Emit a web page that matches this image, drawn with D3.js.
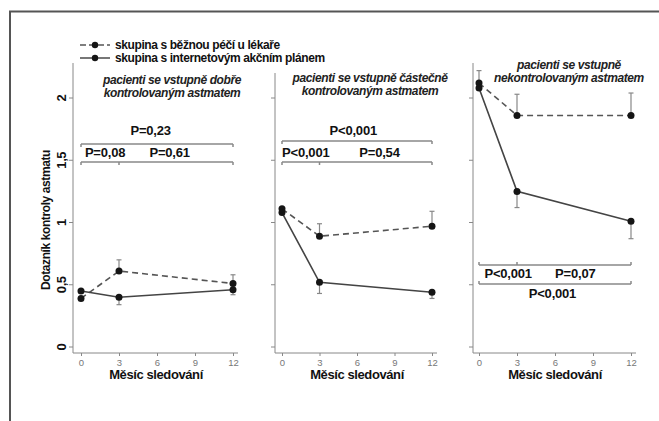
<!DOCTYPE html>
<html lang="cs">
<head>
<meta charset="utf-8">
<title>Dotazník kontroly astmatu</title>
<script src="https://cdn.jsdelivr.net/npm/d3@7"></script>
<style>
  body { margin: 0; background: #fff; }
  svg text { font-family: "Liberation Sans Narrow", "Arial Narrow", "Liberation Sans", sans-serif; font-weight: bold; letter-spacing: -0.4px; }
  .ttl { font-style: italic; font-size: 12px; fill: #222; }
  .pval { font-size: 13px; fill: #111; letter-spacing: -0.2px; }
  .axis path, .axis line { stroke: #888; fill: none; }
  .axis text { font-family: "Liberation Sans", sans-serif; font-weight: normal; font-size: 9.5px; fill: #777; letter-spacing: 0; }
</style>
</head>
<body>
<div id="chart"></div>
<script>
// data
var months = [0, 3, 12]
var panelTitles = [
  ["pacienti se vstupně dobře", "kontrolovaným astmatem"],
  ["pacienti se vstupně částečně", "kontrolovaným astmatem"],
  ["pacienti se vstupně", "nekontrolovaným astmatem"]
]
var usualCare = [[0.39, 0.61, 0.51], [1.11, 0.89, 0.97], [2.12, 1.86, 1.86]]
var usualCareUpper = [[null, 0.70, 0.58], [null, 0.99, 1.09], [2.22, 2.03, 2.04]]
var internetPlan = [[0.45, 0.40, 0.46], [1.08, 0.52, 0.44], [2.08, 1.25, 1.01]]
var internetLower = [[null, 0.34, 0.42], [null, 0.43, 0.39], [null, 1.12, 0.87]]
var pOverall = ["P=0,23", "P<0,001", "P<0,001"]
var pFirst = ["P=0,08", "P<0,001", "P<0,001"]
var pSecond = ["P=0,61", "P=0,54", "P=0,07"]
var legendLabels = ["skupina s běžnou péčí u lékaře", "skupina s internetovým akčním plánem"]
var yTicks = [0, 0.5, 1, 1.5, 2]
var xTicks = [0, 3, 6, 9, 12]

var w = 659, h = 421
var svg = d3.select("#chart").append("svg").attr("width", w).attr("height", h)

// frame
svg.append("path").attr("d", "M10,421 V11.5 H659").attr("fill", "none")
   .attr("stroke", "#555").attr("stroke-width", 2)

var yScale = d3.scaleLinear().domain([0, 2]).range([347, 98])
var panels = [
  {x0: 81, x1: 233, axX: 73, axTop: 63, axRight: 238, tx: 172, ty: 84, xlab: 156},
  {x0: 282, x1: 432, axX: 275, axTop: 73, axRight: 437, tx: 370, ty: 82, xlab: 357},
  {x0: 479, x1: 631, axX: 473, axTop: 63, axRight: 636, tx: 569, ty: 69, xlab: 555}
]
var axisY = 353

panels.forEach(function(p, i) {
  var xScale = d3.scaleLinear().domain([0, 12]).range([p.x0, p.x1])
  var g = svg.append("g")

  // y axis
  var ya = g.append("g").attr("class", "axis")
  ya.append("line").attr("x1", p.axX).attr("x2", p.axX).attr("y1", p.axTop).attr("y2", axisY)
  ya.selectAll(".yt").data(yTicks).enter().append("line")
    .attr("x1", p.axX - 4).attr("x2", p.axX)
    .attr("y1", function(d) { return yScale(d) }).attr("y2", function(d) { return yScale(d) })

  if (i == 0) {
    g.selectAll(".ylab").data(yTicks).enter().append("text")
      .attr("transform", function(d) { return "translate(66," + yScale(d) + ") rotate(-90)" })
      .attr("text-anchor", "middle").style("font-size", "13px").attr("fill", "#111")
      .text(function(d) { return String(d).replace(".", ",") })
    g.append("text").attr("transform", "translate(50,220) rotate(-90)")
      .attr("text-anchor", "middle").style("font-size", "12px").attr("fill", "#111")
      .text("Dotazník kontroly astmatu")
  }

  // x axis
  var xAxis = d3.axisBottom(xScale).tickValues(xTicks).tickSize(3).tickPadding(3)
  var xa = g.append("g").attr("class", "axis").attr("transform", "translate(0," + axisY + ")").call(xAxis)
  xa.select(".domain").attr("d", "M" + p.axX + ",0H" + p.axRight)

  g.append("text").attr("x", p.xlab).attr("y", 379).attr("text-anchor", "middle")
    .style("font-size", "13px").attr("fill", "#111").text("Měsíc sledování")

  // title
  g.selectAll(".ttl").data(panelTitles[i]).enter().append("text").attr("class", "ttl")
    .attr("x", p.tx).attr("y", function(d, k) { return p.ty + k * 13 })
    .attr("text-anchor", "middle").text(function(d) { return d })

  // p-value brackets
  var bc = "#888"
  function bracket(yy, ticks, dir) {
    g.append("line").attr("x1", xScale(0)).attr("x2", xScale(12)).attr("y1", yy).attr("y2", yy)
      .attr("stroke", bc).attr("stroke-width", 1.5)
    ticks.forEach(function(m) {
      g.append("line").attr("x1", xScale(m)).attr("x2", xScale(m)).attr("y1", yy).attr("y2", yy + dir * 3)
        .attr("stroke", bc).attr("stroke-width", 1.5)
    })
  }
  function ptext(txt, m, yy) {
    g.append("text").attr("class", "pval").attr("x", xScale(m)).attr("y", yy)
      .attr("text-anchor", "middle").text(txt)
  }
  if (i < 2) {
    var top = i == 0 ? 144 : 141
    bracket(top, [0, 12], 1)
    bracket(162, [0, 3, 12], 1)
    ptext(pOverall[i], i == 0 ? 5.5 : 5.7, 135)
    ptext(pFirst[i], 1.9, 157)
    ptext(pSecond[i], i == 0 ? 7 : 7.8, 157)
  } else {
    bracket(265, [0, 3, 12], -1)
    bracket(284, [0, 12], -1)
    ptext(pFirst[i], 2.3, 278)
    ptext(pSecond[i], 7.6, 278)
    ptext(pOverall[i], 5.8, 298)
  }

  // error bars
  function errBars(vals, ends) {
    months.forEach(function(m, k) {
      if (ends[k] == null) return
      var x = xScale(m)
      g.append("line").attr("x1", x).attr("x2", x).attr("y1", yScale(vals[k])).attr("y2", yScale(ends[k]))
        .attr("stroke", "#888").attr("stroke-width", 1.2)
      g.append("line").attr("x1", x - 2.5).attr("x2", x + 2.5).attr("y1", yScale(ends[k])).attr("y2", yScale(ends[k]))
        .attr("stroke", "#888").attr("stroke-width", 1.2)
    })
  }
  errBars(usualCare[i], usualCareUpper[i])
  errBars(internetPlan[i], internetLower[i])

  var line = d3.line().x(function(d, k) { return xScale(months[k]) }).y(function(d) { return yScale(d) })
  g.append("path").attr("d", line(usualCare[i])).attr("fill", "none")
    .attr("stroke", "#555").attr("stroke-width", 1.6).attr("stroke-dasharray", "6,4")
  g.append("path").attr("d", line(internetPlan[i])).attr("fill", "none")
    .attr("stroke", "#444").attr("stroke-width", 1.6)

  ;[usualCare[i], internetPlan[i]].forEach(function(s) {
    g.selectAll(null).data(s).enter().append("circle")
      .attr("cx", function(d, k) { return xScale(months[k]) })
      .attr("cy", function(d) { return yScale(d) })
      .attr("r", 3.5).attr("fill", "#151515")
  })
})

// legend
var leg = svg.append("g")
legendLabels.forEach(function(t, k) {
  var yy = 45 + k * 13
  leg.append("line").attr("x1", 80).attr("x2", 110).attr("y1", yy).attr("y2", yy)
    .attr("stroke", "#555").attr("stroke-width", 1.6).attr("stroke-dasharray", k == 0 ? "6,3" : null)
  leg.append("circle").attr("cx", 95).attr("cy", yy).attr("r", 3.2).attr("fill", "#151515")
  leg.append("text").attr("x", 115).attr("y", yy + 4).style("font-size", "12px").attr("fill", "#111").text(t)
})
</script>
</body>
</html>
